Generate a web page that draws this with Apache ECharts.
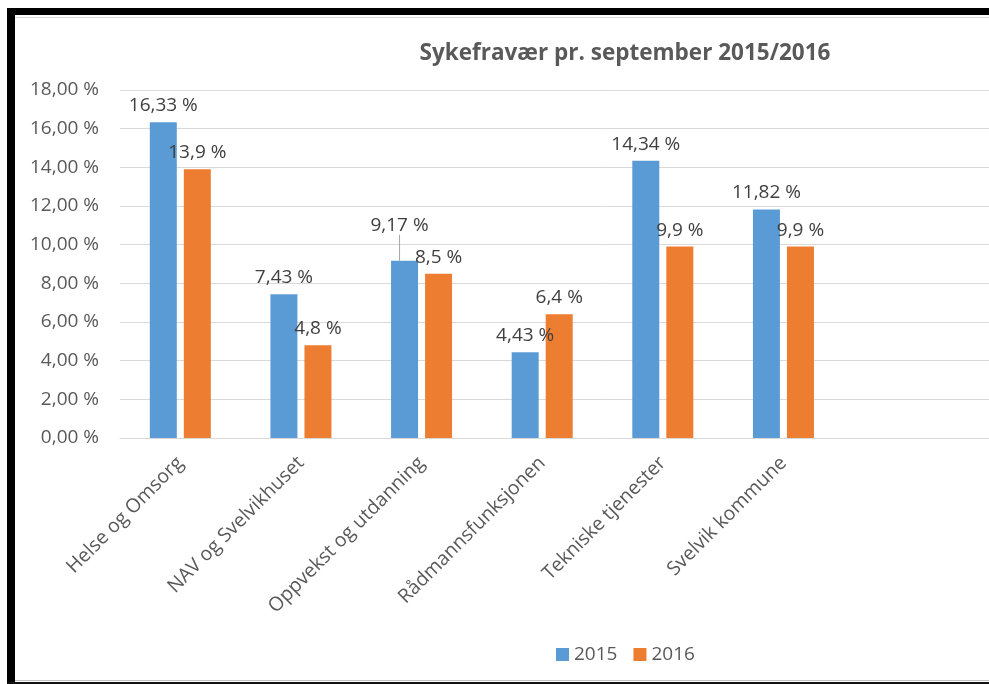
<!DOCTYPE html>
<html>
<head>
<meta charset="utf-8">
<script src="https://cdn.jsdelivr.net/npm/echarts@6/dist/echarts.min.js"></script>
<style>
html,body{margin:0;padding:0;background:#fff;overflow:hidden;width:989px;height:684px;}
#chart{width:1100px;height:684px;}
</style>
</head>
<body>
<div id="chart"></div>
<script>
const title = 'Sykefravær pr. september 2015/2016';
const categories = ['Helse og Omsorg', 'NAV og Svelvikhuset', 'Oppvekst og utdanning', 'Rådmannsfunksjonen', 'Tekniske tjenester', 'Svelvik kommune'];
const seriesNames = ['2015', '2016'];
const values2015 = [16.33, 7.43, 9.17, 4.43, 14.34, 11.82];
const values2016 = [13.9, 4.8, 8.5, 6.4, 9.9, 9.9];
const yMin = 0, yMax = 18, yInterval = 2;

const FONT = '"Open Sans", sans-serif';
const chart = echarts.init(document.getElementById('chart'), null, {renderer: 'canvas'});

// pad two empty category slots (the original plot runs past the right edge)
const cats = categories.concat(['', '']);

const fmtPct = v => String(v).replace('.', ',') + ' %';

function labelCfg() {
  return {
    show: true, position: 'top', distance: 7,
    color: '#404040', fontSize: 19, fontFamily: FONT,
    formatter: p => fmtPct(p.value)
  };
}

// only the "9,17 %" label is moved and gets a leader line
const data2015 = values2015.map((v, i) => i === 2
  ? {value: v, labelLine: {show: true, lineStyle: {color: '#a6a6a6', width: 1}}}
  : {value: v});

chart.setOption({
  animation: false,
  backgroundColor: '#fff',
  title: {
    text: title, left: 620, top: 37, textAlign: 'center',
    textStyle: {fontFamily: FONT, fontSize: 22.5, fontWeight: 'bold', color: '#595959'}
  },
  legend: {
    data: seriesNames, left: 551, top: 640,
    itemWidth: 13, itemHeight: 13, itemGap: 16,
    icon: 'rect',
    textStyle: {fontFamily: FONT, fontSize: 19, color: '#595959', padding: [0, 0, 0, 0]}
  },
  grid: {left: 120, top: 90, height: 348, width: 965, containLabel: false},
  xAxis: {
    type: 'category', data: cats,
    axisLine: {lineStyle: {color: '#d9d9d9', width: 1}},
    axisTick: {show: false},
    axisLabel: {rotate: 45, interval: 0, margin: 22, color: '#595959', fontSize: 19.5, fontFamily: FONT}
  },
  yAxis: {
    type: 'value', min: yMin, max: yMax, interval: yInterval,
    axisLine: {show: false}, axisTick: {show: false},
    splitLine: {lineStyle: {color: '#d9d9d9', width: 1}},
    axisLabel: {
      margin: 21, color: '#595959', fontSize: 19, fontFamily: FONT,
      formatter: v => v.toFixed(2).replace('.', ',') + ' %'
    }
  },
  series: [
    {
      name: seriesNames[0], type: 'bar', data: data2015,
      barWidth: 27, barGap: '26%',
      itemStyle: {color: '#5B9BD5'},
      label: labelCfg(),
      labelLine: {show: false},
      labelLayout: function (p) {
        if (p.dataIndex === 2) return {dx: -5, dy: -19};
        return {};
      }
    },
    {
      name: seriesNames[1], type: 'bar', data: values2016,
      barWidth: 27, barGap: '26%',
      itemStyle: {color: '#ED7D31'},
      label: labelCfg()
    }
  ],
  graphic: [
    {type: 'rect', shape: {x: 15, y: 17, width: 1090, height: 1}, style: {fill: '#d9d9d9'}, silent: true},
    {type: 'rect', shape: {x: 15, y: 680, width: 1090, height: 1}, style: {fill: '#bfbfbf'}, silent: true},
    {type: 'rect', shape: {x: 7, y: 8, width: 1100, height: 7}, style: {fill: '#000'}, silent: true},
    {type: 'rect', shape: {x: 7, y: 8, width: 8, height: 680}, style: {fill: '#000'}, silent: true},
    {type: 'rect', shape: {x: 7, y: 682, width: 1100, height: 2}, style: {fill: '#111'}, silent: true}
  ]
});
</script>
</body>
</html>
